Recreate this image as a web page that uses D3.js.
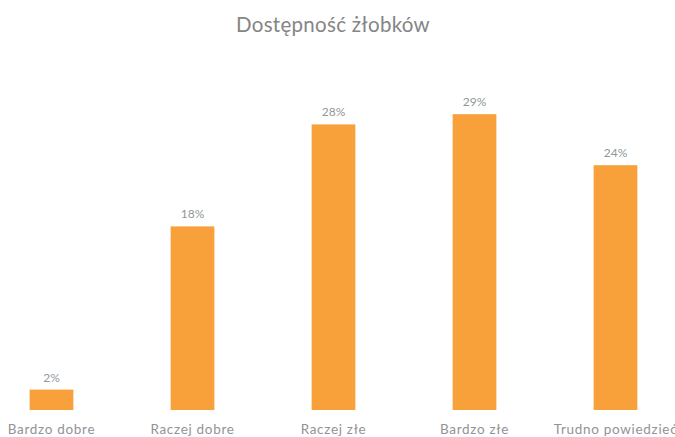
<!DOCTYPE html>
<html>
<head>
<meta charset="utf-8">
<script src="https://cdn.jsdelivr.net/npm/d3@7"></script>
<style>
  body { margin: 0; background: #fff; }
  svg { display: block; font-family: Lato, "Open Sans", sans-serif; }
</style>
</head>
<body>
<div id="chart"></div>
<script>
const categories = ["Bardzo dobre", "Raczej dobre", "Raczej złe", "Bardzo złe", "Trudno powiedzieć"];
const values = [2, 18, 28, 29, 24];
const valueLabels = ["2%", "18%", "28%", "29%", "24%"];

const width = 675, height = 437;

const svg = d3.select("#chart")
  .append("svg")
  .attr("width", width)
  .attr("height", height);

// title
svg.append("text")
  .attr("x", 333)
  .attr("y", 32)
  .attr("text-anchor", "middle")
  .attr("fill", "#858585")
  .style("font-size", "20.5px")
  .style("letter-spacing", "0.3px")
  .text("Dostępność żłobków");

let x = d3.scaleBand()
  .domain(categories)
  .range([-19, 686])
  .paddingInner(0.69)
  .paddingOuter(0.345);

let y = d3.scaleLinear()
  .domain([0, 30])
  .range([410, 104]);

svg.append("g").selectAll("rect")
  .data(values)
  .join("rect")
  .attr("x", (d, i) => x(categories[i]))
  .attr("y", d => y(d))
  .attr("width", x.bandwidth())
  .attr("height", d => y(0) - y(d))
  .attr("fill", "#f8a13a");

// value labels above bars
svg.append("g").selectAll("text")
  .data(values)
  .join("text")
  .attr("x", (d, i) => x(categories[i]) + x.bandwidth() / 2)
  .attr("y", d => y(d) - 8)
  .attr("text-anchor", "middle")
  .attr("fill", "#8e9898")
  .style("font-size", "12px")
  .text((d, i) => valueLabels[i]);

// category axis, no line or ticks
let axis = svg.append("g")
  .attr("transform", `translate(0, ${y(0)})`)
  .call(d3.axisBottom(x).tickSize(0).tickPadding(14));
axis.select(".domain").remove();
axis.selectAll("text")
  .attr("fill", "#939393")
  .style("font-size", "13.5px")
  .style("letter-spacing", "0.7px")
  .style("font-family", "Lato, 'Open Sans', sans-serif");
</script>
</body>
</html>
